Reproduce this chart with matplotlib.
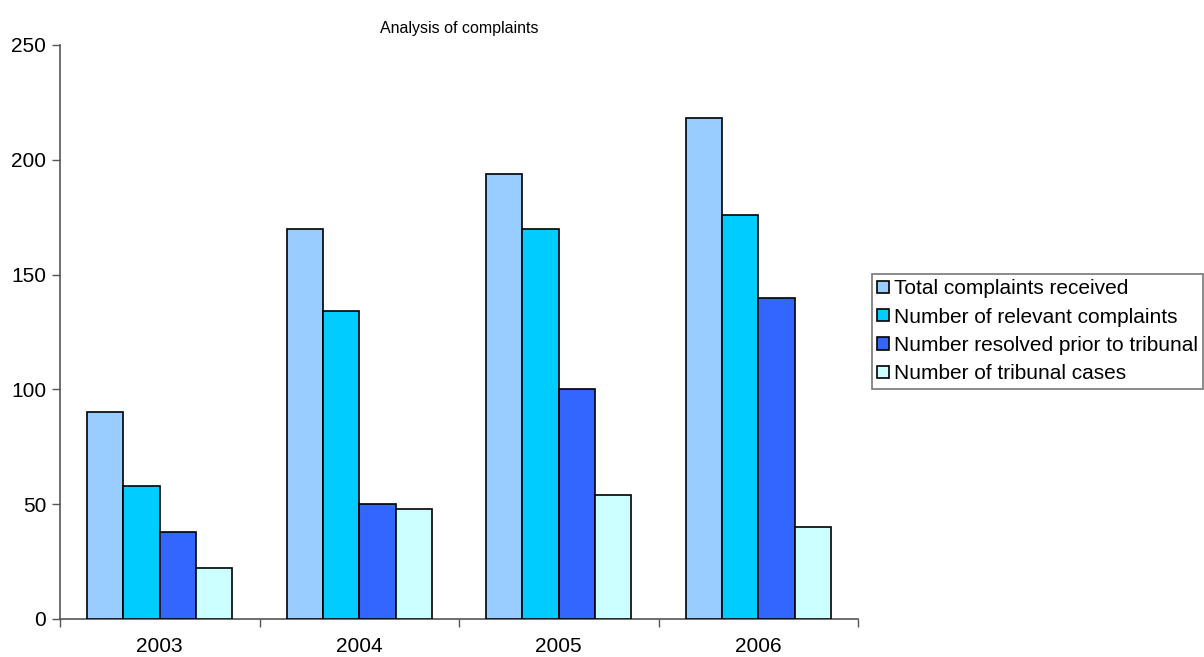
import matplotlib
matplotlib.use("Agg")
import matplotlib.pyplot as plt
import numpy as np

plt.rcParams['font.family'] = ['Liberation Sans', 'DejaVu Sans']

years = ["2003", "2004", "2005", "2006"]
series_names = [
    "Total complaints received",
    "Number of relevant complaints",
    "Number resolved prior to tribunal",
    "Number of tribunal cases",
]
total_received = [90, 170, 194, 218]
relevant = [58, 134, 170, 176]
resolved_prior = [38, 50, 100, 140]
tribunal_cases = [22, 48, 54, 40]
y_ticks = [0, 50, 100, 150, 200, 250]

colors = ["#99CCFF", "#00CCFF", "#3366FF", "#CCFFFF"]
series = [total_received, relevant, resolved_prior, tribunal_cases]

fig = plt.figure(figsize=(12.04, 6.57), dpi=100)
ax = fig.add_axes([60 / 1204, 1 - 619 / 657, (858 - 60) / 1204, (619 - 45) / 657])

x = np.arange(len(years))
bar_w = 0.182
n = len(series)
for i, (vals, col, name) in enumerate(zip(series, colors, series_names)):
    offs = (i - (n - 1) / 2) * bar_w
    ax.bar(x + offs, vals, width=bar_w, color=col, edgecolor="black",
           linewidth=1.2, label=name, zorder=3)

ax.set_xlim(-0.5, len(years) - 0.5)
ax.set_ylim(0, 250)
ax.set_yticks(y_ticks)
ax.set_yticklabels([str(v) for v in y_ticks], fontsize=15)
ax.set_xticks(x)
ax.set_xticklabels(years, fontsize=15)
ax.tick_params(axis="x", which="major", length=0, pad=13)
ax.set_xticks(np.arange(-0.5, len(years)), minor=True)
ax.tick_params(axis="x", which="minor", length=6, width=1, color="#555555", direction="out")
ax.tick_params(axis="y", length=6, width=1, color="#555555", direction="out", pad=4)

for side in ("top", "right"):
    ax.spines[side].set_visible(False)
for side in ("left", "bottom"):
    ax.spines[side].set_color("#555555")
    ax.spines[side].set_linewidth(1.2)

ax.set_title("Analysis of complaints", fontsize=11.5, pad=9)

leg = fig.legend(loc="upper left", bbox_to_anchor=(872 / 1204, 1 - 274 / 657),
                 fontsize=15, frameon=True, fancybox=False, handlelength=0.55,
                 handleheight=0.55, handletextpad=0.25, labelspacing=0.45,
                 borderpad=0.25, borderaxespad=0)
leg.get_frame().set_edgecolor("#555555")
leg.get_frame().set_linewidth(1.2)

fig.savefig("out.png", dpi=100)
